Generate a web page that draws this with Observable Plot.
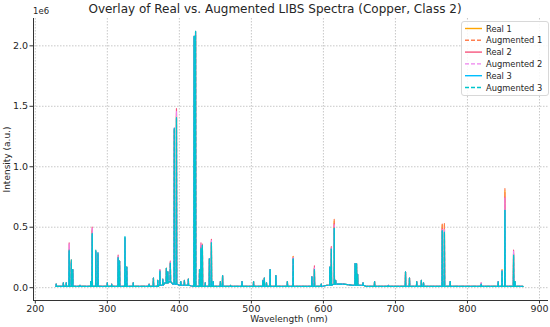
<!DOCTYPE html>
<html><head><meta charset="utf-8">
<script src="https://cdn.jsdelivr.net/npm/d3@7"></script>
<script src="https://cdn.jsdelivr.net/npm/@observablehq/plot@0.6"></script>
<style>
body{margin:0;background:#fff;font-family:"DejaVu Sans",sans-serif;}
#wrap{position:relative;width:550px;height:327px;overflow:hidden;}
.lbl{position:absolute;color:#262626;white-space:nowrap;line-height:1;}
</style>
</head><body><div id="wrap"></div>
<script>
// Peak wavelengths (nm) and peak intensities (x1e6) per series
const peakNm = [229,239,243,247,250,252,262,277,279,284,
  287,300,306,315,317,324.5,327,336,358,364,
  370,373,377,382,384,387.5,393,396,402,407,
  412.5,420.5,422.5,428,430,432,436,441.7,444.5,447,
  457,460,471,487,503,516,518,521,526,534,
  550,558,584,587.5,597,609,611,615,617,644,
  646,647.5,655,671,690,714,719.5,729.5,736,739,
  765,768,776,819,842.7,848,852,864,866];
const real1 = [0.03,0.04,0.04,0.30,0.22,0.15,0.02,0.05,0.47,0.30,
  0.28,0.04,0.03,0.25,0.22,0.41,0.17,0.04,0.03,0.08,
  0.06,0.14,0.07,0.16,0.13,0.21,1.30,1.42,0.05,0.06,
  0.07,2.06,2.10,0.15,0.34,0.35,0.04,0.24,0.38,0.05,
  0.05,0.10,0.02,0.05,0.05,0.06,0.08,0.04,0.15,0.10,
  0.05,0.26,0.09,0.16,0.03,0.17,0.32,0.55,0.06,0.20,
  0.20,0.11,0.04,0.05,0.02,0.13,0.08,0.05,0.06,0.04,
  0.52,0.52,0.05,0.03,0.05,0.15,0.80,0.28,0.05];
const aug1 = [0.03,0.04,0.04,0.31,0.23,0.15,0.02,0.05,0.48,0.31,
  0.28,0.04,0.03,0.25,0.22,0.40,0.17,0.04,0.03,0.08,
  0.06,0.14,0.07,0.16,0.13,0.21,1.31,1.44,0.05,0.06,
  0.07,2.07,2.11,0.15,0.35,0.36,0.04,0.24,0.38,0.05,
  0.05,0.10,0.02,0.05,0.05,0.06,0.08,0.04,0.15,0.10,
  0.05,0.26,0.09,0.16,0.03,0.17,0.33,0.57,0.06,0.20,
  0.20,0.11,0.04,0.05,0.02,0.13,0.08,0.05,0.06,0.04,
  0.53,0.53,0.05,0.03,0.05,0.15,0.82,0.28,0.05];
const real2 = [0.03,0.04,0.04,0.37,0.21,0.15,0.02,0.05,0.50,0.29,
  0.27,0.04,0.03,0.27,0.22,0.41,0.17,0.04,0.03,0.08,
  0.06,0.15,0.07,0.16,0.13,0.22,1.32,1.48,0.05,0.06,
  0.07,2.08,2.12,0.15,0.37,0.34,0.04,0.24,0.40,0.05,
  0.05,0.10,0.02,0.05,0.05,0.06,0.08,0.04,0.15,0.10,
  0.05,0.24,0.09,0.18,0.03,0.17,0.34,0.53,0.06,0.20,
  0.20,0.11,0.04,0.05,0.02,0.13,0.08,0.05,0.06,0.04,
  0.49,0.48,0.05,0.04,0.05,0.14,0.75,0.31,0.05];
const aug2 = [0.03,0.04,0.04,0.36,0.22,0.15,0.02,0.05,0.49,0.30,
  0.29,0.04,0.03,0.26,0.22,0.40,0.17,0.04,0.03,0.08,
  0.06,0.15,0.07,0.16,0.13,0.22,1.31,1.46,0.05,0.06,
  0.07,2.07,2.11,0.15,0.36,0.35,0.04,0.24,0.39,0.05,
  0.05,0.10,0.02,0.05,0.05,0.06,0.08,0.04,0.15,0.10,
  0.05,0.25,0.09,0.17,0.03,0.17,0.33,0.52,0.06,0.20,
  0.20,0.11,0.04,0.05,0.02,0.13,0.08,0.05,0.06,0.04,
  0.48,0.48,0.05,0.04,0.05,0.14,0.74,0.30,0.05];
const real3 = [0.03,0.04,0.04,0.30,0.20,0.15,0.02,0.05,0.44,0.30,
  0.28,0.04,0.03,0.24,0.22,0.42,0.17,0.04,0.03,0.08,
  0.06,0.13,0.07,0.16,0.13,0.20,1.32,1.40,0.05,0.06,
  0.07,2.08,2.12,0.15,0.32,0.35,0.04,0.24,0.37,0.05,
  0.05,0.10,0.02,0.05,0.05,0.06,0.08,0.04,0.15,0.10,
  0.05,0.24,0.09,0.15,0.03,0.17,0.32,0.49,0.06,0.20,
  0.20,0.11,0.04,0.05,0.02,0.13,0.08,0.05,0.06,0.04,
  0.47,0.46,0.05,0.03,0.05,0.14,0.64,0.27,0.05];
const aug3 = [0.03,0.04,0.04,0.31,0.23,0.15,0.02,0.05,0.45,0.31,
  0.29,0.04,0.03,0.25,0.22,0.42,0.17,0.04,0.03,0.08,
  0.06,0.14,0.07,0.16,0.13,0.21,1.32,1.41,0.05,0.06,
  0.07,2.08,2.12,0.15,0.33,0.35,0.04,0.24,0.37,0.05,
  0.05,0.10,0.02,0.05,0.05,0.06,0.08,0.04,0.15,0.10,
  0.05,0.24,0.09,0.15,0.03,0.17,0.32,0.49,0.06,0.20,
  0.20,0.11,0.04,0.05,0.02,0.13,0.08,0.05,0.06,0.04,
  0.47,0.46,0.05,0.03,0.05,0.14,0.64,0.27,0.05];
// Continuum baseline (x1e6)
const baseNm  = [229, 350, 372, 380, 386, 391, 400, 420, 595, 605, 615, 628, 640, 660, 877];
const baseVal = [0.01,0.01,0.02,0.04,0.05,0.03,0.02,0.01,0.01,0.02,0.03,0.03,0.02,0.01,0.01];
const seriesNames = ["Real 1","Augmented 1","Real 2","Augmented 2","Real 3","Augmented 3"];
const seriesVals = [real1, aug1, real2, aug2, real3, aug3];
const seriesColors = ["#ffa500","#ff7f50","#f7577f","#ee82ee","#00bfff","#00c5cc"];
const seriesDash = [null,"4,2",null,"4,2",null,"4,2"];
const xTicks = [200,300,400,500,600,700,800,900];
const yTicks = [0,0.5,1.0,1.5,2.0];

function baseAt(w){ const i = Math.max(0, d3.bisectRight(baseNm, w) - 1); return baseVal[i]; }
function buildSeries(vals){
  const pts = baseNm.map((w,i)=>({x:w,y:baseVal[i]}));
  peakNm.forEach((w,i)=>{ const b = baseAt(w); pts.push({x:w-0.35,y:b},{x:w,y:vals[i]},{x:w+0.35,y:b}); });
  pts.sort((a,b)=>a.x-b.x);
  return pts;
}

const xDom=[197.5,912.5], yDom=[-0.106,2.226];
const lineMarks = seriesVals.map((v,k)=>Plot.line(buildSeries(v),{x:"x",y:"y",stroke:seriesColors[k],strokeWidth:1.2,strokeDasharray:seriesDash[k]}));

const chart = Plot.plot({
  width:550,height:327,marginLeft:33,marginRight:2,marginTop:18,marginBottom:27,
  style:{fontFamily:"DejaVu Sans",fontSize:"9.5px",color:"#262626",background:"white",overflow:"visible"},
  x:{domain:xDom,label:null},
  y:{domain:yDom,label:null},
  marks:[
    Plot.gridX(xTicks,{stroke:"#b0b0b0",strokeOpacity:0.7,strokeDasharray:"1.5,1.5"}),
    Plot.gridY(yTicks,{stroke:"#b0b0b0",strokeOpacity:0.7,strokeDasharray:"1.5,1.5"}),
    ...lineMarks,
    Plot.ruleX([xDom[0]],{stroke:"#333",strokeWidth:1}),
    Plot.ruleY([yDom[0]],{stroke:"#333",strokeWidth:1}),
    Plot.axisX(xTicks,{tickSize:3.5,tickPadding:1.5,tickFormat:d=>String(d),stroke:"#333",label:null}),
    Plot.axisY(yTicks,{tickSize:3.5,tickPadding:2,tickFormat:d=>d.toFixed(1),stroke:"#333",label:null})
  ]
});
const wrap=document.getElementById("wrap");
wrap.appendChild(chart);

function addLabel(text, css){ const d=document.createElement("div"); d.className="lbl"; d.textContent=text; Object.assign(d.style,css); wrap.appendChild(d); return d; }
addLabel("Overlay of Real vs. Augmented LIBS Spectra (Copper, Class 2)",{left:"0",width:"550px",textAlign:"center",top:"3px",fontSize:"12px"});
addLabel("1e6",{left:"33px",top:"7px",fontSize:"8.5px"});
addLabel("Wavelength (nm)",{left:"239px",width:"100px",textAlign:"center",top:"315px",fontSize:"9px"});
addLabel("Intensity (a.u.)",{left:"-43px",width:"100px",textAlign:"center",top:"155px",fontSize:"9px",transform:"rotate(-90deg)"});

// Legend
const leg=document.createElement("div");
Object.assign(leg.style,{position:"absolute",left:"461px",top:"21px",width:"86px",height:"73px",border:"1px solid #d8d8d8",borderRadius:"3px",background:"rgba(255,255,255,0.85)"});
const ns="http://www.w3.org/2000/svg";
const ls=document.createElementNS(ns,"svg"); ls.setAttribute("width","86"); ls.setAttribute("height","73");
seriesNames.forEach((n,k)=>{
  const y=6.5+k*11.8;
  const ln=document.createElementNS(ns,"line");
  ln.setAttribute("x1","3");ln.setAttribute("x2","20");ln.setAttribute("y1",y);ln.setAttribute("y2",y);
  ln.setAttribute("stroke",seriesColors[k]);ln.setAttribute("stroke-width","1.4");
  if(seriesDash[k]) ln.setAttribute("stroke-dasharray","4,2");
  ls.appendChild(ln);
  const t=document.createElementNS(ns,"text");
  t.setAttribute("x","24");t.setAttribute("y",y+3);t.setAttribute("font-size","8.3");
  t.setAttribute("font-family","DejaVu Sans");t.setAttribute("fill","#262626");t.textContent=n;
  ls.appendChild(t);
});
leg.appendChild(ls); wrap.appendChild(leg);
</script></body></html>
